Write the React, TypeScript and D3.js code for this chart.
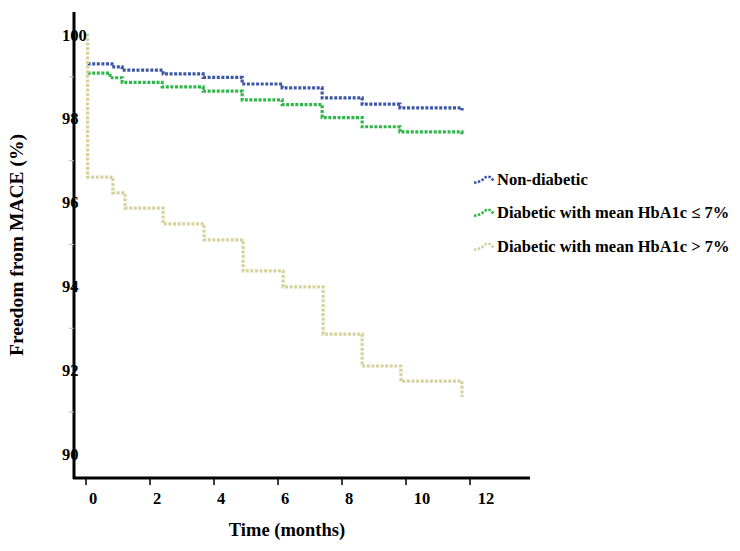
import * as d3 from "d3";
import React, { useEffect, useRef } from "react";

// Kaplan-Meier style steps (months, % event free)
const nonDiabeticTimes = [0.05, 0.81, 1.13, 2.41, 3.66, 4.88, 6.13, 7.38, 8.63, 9.81, 11.75];
const nonDiabeticValues = [99.31, 99.24, 99.16, 99.07, 98.99, 98.83, 98.74, 98.5, 98.35, 98.26, 98.2];

const lowHbTimes = [0.05, 0.75, 1.13, 2.38, 3.66, 4.88, 6.13, 7.38, 8.63, 9.81, 11.75];
const lowHbValues = [99.09, 98.98, 98.87, 98.76, 98.66, 98.45, 98.34, 98.03, 97.81, 97.69, 97.63];

const highHbTimes = [0, 0.05, 0.84, 1.22, 2.41, 3.69, 4.91, 6.16, 7.41, 8.63, 9.84, 11.75];
const highHbValues = [100, 96.61, 96.23, 95.87, 95.49, 95.11, 94.37, 93.99, 92.86, 92.1, 91.74, 91.36];

const seriesNames = [
    "Non-diabetic",
    "Diabetic with mean HbA1c \u2264 7%",
    "Diabetic with mean HbA1c > 7%",
];
const seriesColors = ["#3d57a6", "#2fb54a", "#d6d29e"];

const xTicks = [0, 2, 4, 6, 8, 10, 12];
const yMajorTicks = [90, 92, 94, 96, 98, 100];
const yMinorTicks = [91, 93, 95, 97, 99];

const App = () => {
    const svgRef = useRef(null);

    const width = 740;
    const height = 551;
    const axisX = 74;
    const axisY = 478;
    const font = "'Liberation Serif', 'Times New Roman', serif";

    const xScale = d3.scaleLinear().domain([0, 12]).range([86, 470]);
    const yScale = d3.scaleLinear().domain([90, 100]).range([454, 35]);

    useEffect(() => {
        const svg = d3.select(svgRef.current);
        svg.selectAll("*").remove();

        svg.append("rect")
            .attr("width", width)
            .attr("height", height)
            .attr("fill", "#fff");

        const series = [
            { times: nonDiabeticTimes, values: nonDiabeticValues },
            { times: lowHbTimes, values: lowHbValues },
            { times: highHbTimes, values: highHbValues },
        ];

        const line = d3.line()
            .x((d) => xScale(d[0]))
            .y((d) => yScale(d[1]))
            .curve(d3.curveStepAfter);

        series.forEach((s, i) => {
            const pts = s.times.map((t, j) => [t, s.values[j]]);
            svg.append("path")
                .attr("d", line(pts))
                .attr("fill", "none")
                .attr("stroke", seriesColors[i])
                .attr("stroke-width", 3.2)
                .attr("stroke-dasharray", "3,1.6");
        });

        // axes
        svg.append("line")
            .attr("x1", axisX).attr("x2", axisX)
            .attr("y1", 12).attr("y2", axisY + 1)
            .attr("stroke", "#000").attr("stroke-width", 3);
        svg.append("line")
            .attr("x1", axisX - 1).attr("x2", 530)
            .attr("y1", axisY).attr("y2", axisY)
            .attr("stroke", "#000").attr("stroke-width", 3);

        svg.selectAll(".yminor")
            .data(yMinorTicks)
            .enter()
            .append("line")
            .attr("x1", axisX - 5).attr("x2", axisX)
            .attr("y1", (d) => yScale(d)).attr("y2", (d) => yScale(d))
            .attr("stroke", "#bbb").attr("stroke-width", 1);

        svg.selectAll(".ylab")
            .data(yMajorTicks)
            .enter()
            .append("text")
            .attr("x", 62)
            .attr("y", (d) => yScale(d) + 5.5)
            .text((d) => d)
            .style("font", `bold 16.5px ${font}`)
            .attr("fill", "#000");

        svg.selectAll(".xtick")
            .data(xTicks)
            .enter()
            .append("line")
            .attr("x1", (d) => xScale(d)).attr("x2", (d) => xScale(d))
            .attr("y1", axisY).attr("y2", axisY + 7)
            .attr("stroke", "#000").attr("stroke-width", 1.5);

        svg.selectAll(".xlab")
            .data(xTicks)
            .enter()
            .append("text")
            .attr("x", (d) => xScale(d) + (d >= 10 ? 16 : 7))
            .attr("y", 504)
            .attr("text-anchor", "middle")
            .text((d) => d)
            .style("font", `bold 16.5px ${font}`)
            .attr("fill", "#000");

        svg.append("text")
            .attr("x", 287)
            .attr("y", 536)
            .attr("text-anchor", "middle")
            .text("Time (months)")
            .style("font", `bold 18.5px ${font}`);

        svg.append("text")
            .attr("transform", "translate(23, 245) rotate(-90)")
            .attr("text-anchor", "middle")
            .text("Freedom from MACE (%)")
            .style("font", `bold 19.5px ${font}`);

        // legend
        const legendY = [179, 212, 246];
        seriesNames.forEach((name, i) => {
            const y = legendY[i];
            svg.append("path")
                .attr("d", `M474,${y + 4} L481,${y + 2} L486,${y - 2} L490,${y - 2} L494,${y + 2}`)
                .attr("fill", "none")
                .attr("stroke", seriesColors[i])
                .attr("stroke-width", 2.6)
                .attr("stroke-dasharray", "2.5,1.5");
            svg.append("text")
                .attr("x", 497)
                .attr("y", y + 5.5)
                .text(name)
                .style("font", `bold 16.5px ${font}`)
                .attr("fill", "#000");
        });
    }, []);

    return (
        <svg
            ref={svgRef}
            width={width}
            height={height}
            style={{ position: "absolute", left: 0, top: 0 }}
        />
    );
};

export default App;
